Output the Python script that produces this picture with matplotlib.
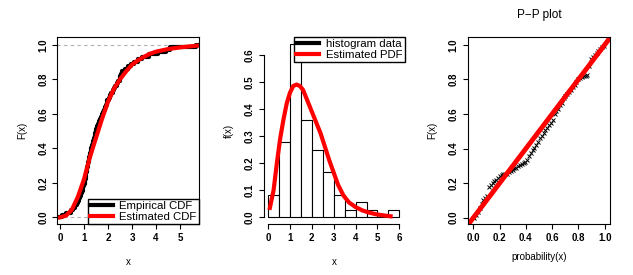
import numpy as np
import matplotlib
matplotlib.use("Agg")
import matplotlib.pyplot as plt

plt.rcParams['font.family'] = ['Liberation Sans', 'DejaVu Sans']

# sample (sorted), read from the ECDF / histogram
sample = [0.08, 0.25, 0.45,
          0.55, 0.62, 0.70, 0.75, 0.80, 0.85, 0.88, 0.92, 0.95, 0.98,
          1.01, 1.03, 1.05, 1.07, 1.09, 1.10, 1.12, 1.14, 1.16, 1.18, 1.20, 1.22,
          1.24, 1.26, 1.28, 1.30, 1.33, 1.36, 1.39, 1.42, 1.44, 1.46, 1.49,
          1.52, 1.55, 1.58, 1.62, 1.66, 1.70, 1.74, 1.78, 1.82, 1.86, 1.90, 1.94, 1.98,
          2.03, 2.08, 2.13, 2.19, 2.25, 2.31, 2.37, 2.43, 2.48,
          2.52, 2.55, 2.58, 2.70, 2.85, 2.95,
          3.10, 3.25, 3.40, 3.70, 4.10, 4.40, 4.60, 5.65]

# fitted CDF
cdf_x = [0.0, 0.25, 0.5, 0.75, 1.0, 1.25, 1.5, 1.75, 2.0, 2.25, 2.5, 2.75,
         3.0, 3.25, 3.5, 3.75, 4.0, 4.5, 5.0, 5.7]
cdf_y = [0.0, 0.01, 0.045, 0.12, 0.22, 0.35, 0.46, 0.57, 0.67, 0.745, 0.80, 0.845,
         0.885, 0.91, 0.93, 0.948, 0.96, 0.975, 0.985, 0.995]

# histogram bins and densities
bin_edges = [0, 0.5, 1, 1.5, 2, 2.5, 3, 3.5, 4, 4.5, 5, 5.5, 6]
densities = [0.083, 0.278, 0.639, 0.361, 0.25, 0.167, 0.083, 0.028, 0.056, 0.028, 0.0, 0.028]

# fitted PDF
pdf_x = [0.08, 0.25, 0.4, 0.55, 0.7, 0.85, 1.0, 1.15, 1.3, 1.45, 1.6, 1.8, 2.0, 2.2,
         2.4, 2.6, 2.8, 3.0, 3.2, 3.45, 3.7, 4.0, 4.3, 4.6, 4.9, 5.2, 5.6]
pdf_y = [0.035, 0.10, 0.20, 0.29, 0.36, 0.42, 0.46, 0.485, 0.49, 0.485, 0.47, 0.43, 0.39, 0.35,
         0.31, 0.26, 0.21, 0.165, 0.12, 0.08, 0.055, 0.038, 0.026, 0.018, 0.012, 0.008, 0.004]

# P-P plot points
pp_prob = [0.007, 0.021, 0.035, 0.049, 0.063, 0.076, 0.090, 0.104, 0.118, 0.132, 0.146, 0.160,
           0.174, 0.188, 0.201, 0.215, 0.229, 0.243, 0.257, 0.271, 0.285, 0.299, 0.312, 0.326,
           0.340, 0.354, 0.368, 0.382, 0.396, 0.410, 0.424, 0.438, 0.451, 0.465, 0.479, 0.493,
           0.507, 0.521, 0.535, 0.549, 0.562, 0.576, 0.590, 0.604, 0.618, 0.632, 0.646, 0.660,
           0.674, 0.688, 0.701, 0.715, 0.729, 0.743, 0.757, 0.771, 0.785, 0.799, 0.812, 0.826,
           0.840, 0.854, 0.868, 0.882, 0.896, 0.910, 0.924, 0.938, 0.951, 0.965, 0.979, 0.993]
pp_F = [0.000, 0.015, 0.035, 0.055, 0.080, 0.105, 0.115, 0.125, 0.180, 0.188, 0.200, 0.210,
        0.220, 0.230, 0.240, 0.245, 0.250, 0.252, 0.255, 0.262, 0.270, 0.278, 0.285, 0.290,
        0.298, 0.305, 0.310, 0.318, 0.325, 0.335, 0.355, 0.375, 0.390, 0.405, 0.420, 0.435,
        0.460, 0.470, 0.490, 0.505, 0.520, 0.535, 0.550, 0.565, 0.600, 0.620, 0.630, 0.650,
        0.665, 0.690, 0.705, 0.715, 0.725, 0.740, 0.755, 0.770, 0.785, 0.800, 0.810, 0.815,
        0.818, 0.820, 0.825, 0.880, 0.915, 0.930, 0.940, 0.955, 0.965, 0.975, 0.985, 0.995]

fig = plt.figure(figsize=(6.33, 2.75), dpi=100)
bot, h = 0.1844, 0.681
ax1 = fig.add_axes([0.0905, bot, 0.2239, h])
ax2 = fig.add_axes([0.4163, bot, 0.2228, h])
ax3 = fig.add_axes([0.7389, bot, 0.2253, h])

tick_kw = dict(labelsize=7, length=3.5, width=0.8, pad=3)
leg_kw = dict(borderaxespad=0, fontsize=8.2, fancybox=False, edgecolor='black', framealpha=1,
              borderpad=0.2, labelspacing=0.05, handlelength=2.0, handletextpad=0.6)


def style(ax):
    ax.tick_params(**tick_kw)
    for lab in ax.get_xticklabels() + ax.get_yticklabels():
        lab.set_fontweight('bold')
    for lab in ax.get_yticklabels():
        lab.set_rotation(90)
        lab.set_va('center')
    for s in ax.spines.values():
        s.set_linewidth(0.8)


# --- panel 1: CDF
xmin1, xmax1 = -0.11, 5.79
n = len(sample)
ecdf_y = np.arange(1, n + 1) / n
ax1.axhline(0, color='#b0b0b0', ls=(0, (3, 3)), lw=0.8)
ax1.axhline(1, color='#b0b0b0', ls=(0, (3, 3)), lw=0.8)
ax1.step(np.r_[xmin1, sample, xmax1], np.r_[0, ecdf_y, 1], where='post', color='black', lw=3,
         label='Empirical CDF')
ax1.plot(cdf_x, cdf_y, color='red', lw=3, label='Estimated CDF')
ax1.set_xlim(xmin1, xmax1)
ax1.set_ylim(-0.04, 1.045)
ax1.set_xticks(range(6))
ax1.set_yticks([0, 0.2, 0.4, 0.6, 0.8, 1.0])
ax1.set_yticklabels(['0.0', '0.2', '0.4', '0.6', '0.8', '1.0'])
ax1.set_xlabel('x', fontsize=7, labelpad=10)
ax1.set_ylabel('F(x)', fontsize=7, labelpad=8)
ax1.legend(loc='lower right', **leg_kw)
style(ax1)

# --- panel 2: histogram + PDF
ax2.bar(bin_edges[:-1], densities, width=np.diff(bin_edges), align='edge',
        facecolor='white', edgecolor='black', lw=0.8)
ax2.plot(pdf_x, pdf_y, color='red', lw=3)
ax2.plot([], [], color='black', lw=3, label='histogram data')
ax2.plot([], [], color='red', lw=3, label='Estimated PDF')
ax2.set_xlim(-0.21, 6.24)
ax2.set_ylim(-0.0256, 0.6656)
ax2.set_xticks(range(7))
ax2.set_yticks([0, 0.1, 0.2, 0.3, 0.4, 0.5, 0.6])
ax2.set_yticklabels(['0.0', '0.1', '0.2', '0.3', '0.4', '0.5', '0.6'])
ax2.spines['top'].set_visible(False)
ax2.spines['right'].set_visible(False)
ax2.spines['left'].set_bounds(0, 0.6)
ax2.spines['bottom'].set_bounds(0, 6)
ax2.set_xlabel('x', fontsize=7, labelpad=10)
ax2.set_ylabel('f(x)', fontsize=7, labelpad=8)
ax2.legend(loc='upper right', **leg_kw)
style(ax2)

# --- panel 3: P-P plot
ax3.plot(pp_prob, pp_F, ls='none', marker='x', ms=2.5, mew=0.7, color='black')
ax3.axline((0, 0), slope=1, color='red', lw=3.5)
ax3.set_xlim(-0.043, 1.043)
ax3.set_ylim(-0.038, 1.045)
ticks = [0, 0.2, 0.4, 0.6, 0.8, 1.0]
tl = ['0.0', '0.2', '0.4', '0.6', '0.8', '1.0']
ax3.set_xticks(ticks)
ax3.set_xticklabels(tl)
ax3.set_yticks(ticks)
ax3.set_yticklabels(tl)
ax3.set_xlabel('probability(x)', fontsize=7, labelpad=6)
ax3.set_ylabel('F(x)', fontsize=7, labelpad=8)
ax3.set_title('P\u2212P plot', fontsize=8.5, pad=14)
style(ax3)

fig.savefig('out.png', dpi=100)
